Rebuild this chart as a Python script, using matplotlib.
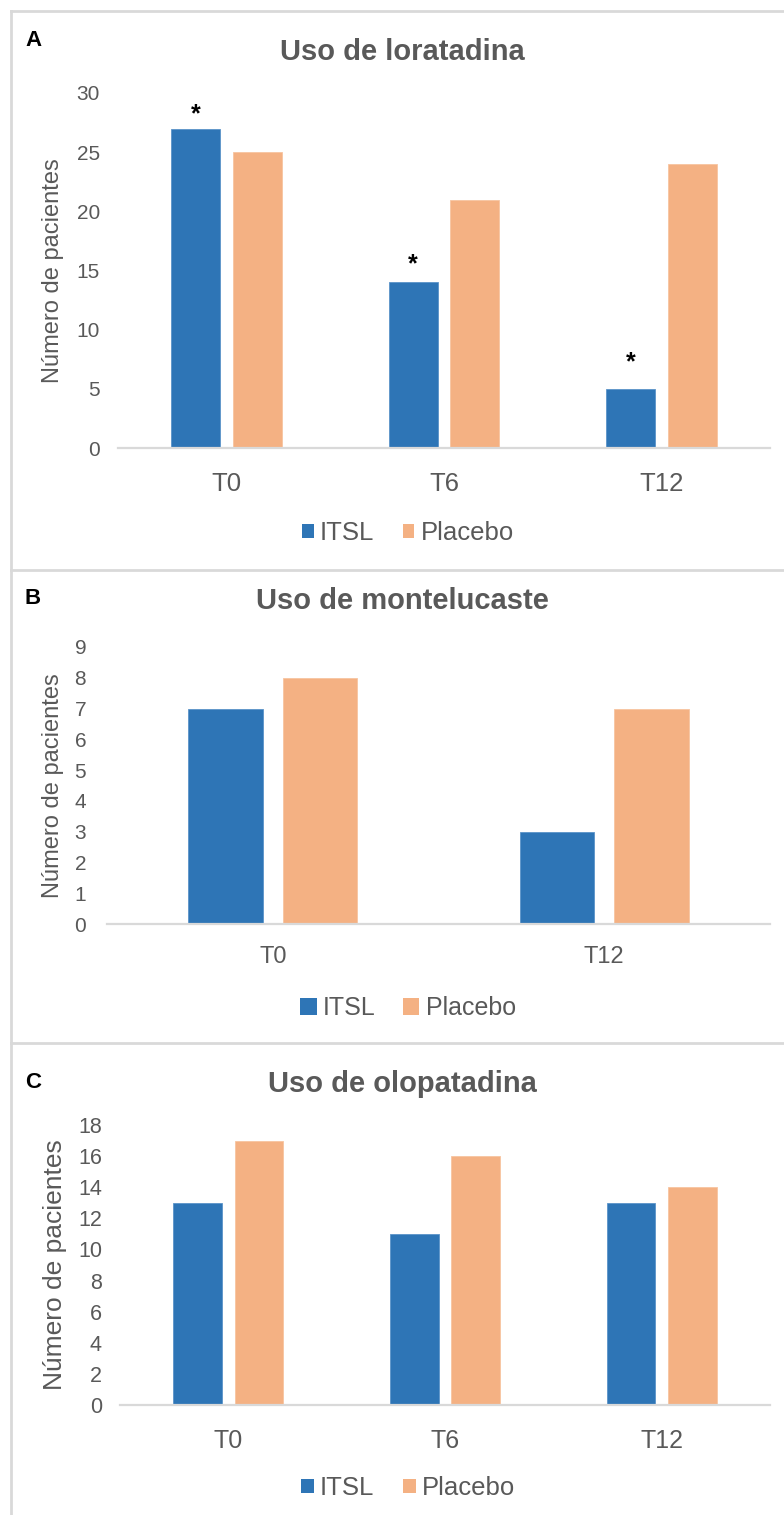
import numpy as np
import matplotlib
matplotlib.use("Agg")
import matplotlib.pyplot as plt
from matplotlib.lines import Line2D
from matplotlib.patches import Patch

# data
CATS_A = ["T0", "T6", "T12"]
ITSL_A = [27, 14, 5]
PLACEBO_A = [25, 21, 24]
STAR_A = [28.8, 16.1, 7.8]   # height of the significance marks

CATS_B = ["T0", "T12"]
ITSL_B = [7, 3]
PLACEBO_B = [8, 7]

CATS_C = ["T0", "T6", "T12"]
ITSL_C = [13, 11, 13]
PLACEBO_C = [17, 16, 14]

SERIES = ["ITSL", "Placebo"]
BLUE = "#2E75B6"
ORANGE = "#F4B183"
GREY_TXT = "#595959"
GREY_LINE = "#D9D9D9"

W, H = 784, 1515
plt.rcParams["font.family"] = ["Liberation Sans", "DejaVu Sans"]

fig = plt.figure(figsize=(W / 100, H / 100), dpi=100)


def px_rect(x0, y_top, x1, y_bot):
    return [x0 / W, 1 - y_bot / H, (x1 - x0) / W, (y_bot - y_top) / H]


def fx(x):
    return x / W


def fy(y):
    return 1 - y / H


def draw_panel(rect, cats, itsl, placebo, ymax, ystep, title, letter,
               title_y, letter_y, legend_y, ylab_x, ytick_fs, xtick_fs,
               ylab_fs, leg_fs, ytick_pad, xtick_pad, handle_sz):
    ax = fig.add_axes(px_rect(*rect))
    x = np.arange(len(cats))
    off, wid = 0.142, 0.225
    ax.bar(x - off, itsl, width=wid, color=BLUE, edgecolor="#5B93C9", linewidth=0.6)
    ax.bar(x + off, placebo, width=wid, color=ORANGE, edgecolor="#F7C4A0", linewidth=0.6)
    ax.set_xlim(-0.5, len(cats) - 0.5)
    ax.set_ylim(0, ymax)
    ax.set_yticks(np.arange(0, ymax + 0.1, ystep))
    ax.set_xticks(x)
    ax.set_xticklabels(cats)
    for s in ["top", "right", "left"]:
        ax.spines[s].set_visible(False)
    ax.spines["bottom"].set_color(GREY_LINE)
    ax.spines["bottom"].set_linewidth(1.6)
    ax.tick_params(axis="y", length=0, labelsize=ytick_fs, labelcolor=GREY_TXT, pad=ytick_pad)
    ax.tick_params(axis="x", length=0, labelsize=xtick_fs, labelcolor=GREY_TXT, pad=xtick_pad)
    ax.set_ylabel("Número de pacientes", fontsize=ylab_fs, color=GREY_TXT, va="center")
    x0, x1 = rect[0], rect[2]
    ax.yaxis.set_label_coords((ylab_x - x0) / (x1 - x0), 0.5)

    fig.text(fx(402), fy(title_y), title, fontsize=21, fontweight="bold",
             color=GREY_TXT, ha="center", va="center")
    fig.text(fx(25), fy(letter_y), letter, fontsize=16, fontweight="bold",
             color="black", ha="left", va="center")

    handles = [Patch(facecolor=BLUE), Patch(facecolor=ORANGE)]
    ax.legend(handles, SERIES, loc="center", bbox_to_anchor=(fx(408), fy(legend_y)),
              bbox_transform=fig.transFigure, ncol=2, frameon=False,
              fontsize=leg_fs, labelcolor=GREY_TXT, handlelength=handle_sz,
              handleheight=handle_sz, handletextpad=0.25, columnspacing=1.1,
              borderpad=0)
    return ax


ax_a = draw_panel((118, 93, 770, 448), CATS_A, ITSL_A, PLACEBO_A, 30, 5,
                  "Uso de loratadina", "A", 52, 40, 533, 53,
                  15, 18.5, 17, 18.5, 13, 17, 0.45)
for i, s in enumerate(STAR_A):
    ax_a.annotate("*", (i - 0.142, s), xytext=(0, -5), textcoords="offset points",
                  ha="center", va="center", fontsize=18, fontweight="bold", color="black")

draw_panel((107, 647, 770, 924), CATS_B, ITSL_B, PLACEBO_B, 9, 1,
           "Uso de montelucaste", "B", 601, 598, 1008, 53,
           15, 17, 17, 18, 15, 16, 0.65)

draw_panel((120, 1125, 770, 1405), CATS_C, ITSL_C, PLACEBO_C, 18, 2,
           "Uso de olopatadina", "C", 1084, 1083, 1488, 55,
           15.5, 18, 19, 18.5, 13, 17, 0.5)

# panel frames
frame = dict(color=GREY_LINE, linewidth=2, transform=fig.transFigure)
fig.add_artist(Line2D([fx(11), fx(11)], [fy(11), fy(H)], **frame))
fig.add_artist(Line2D([fx(11), 1], [fy(11), fy(11)], **frame))
fig.add_artist(Line2D([fx(11), 1], [fy(570), fy(570)], **frame))
fig.add_artist(Line2D([fx(11), 1], [fy(1043), fy(1043)], **frame))

fig.savefig("out.png", dpi=100, facecolor="white")
